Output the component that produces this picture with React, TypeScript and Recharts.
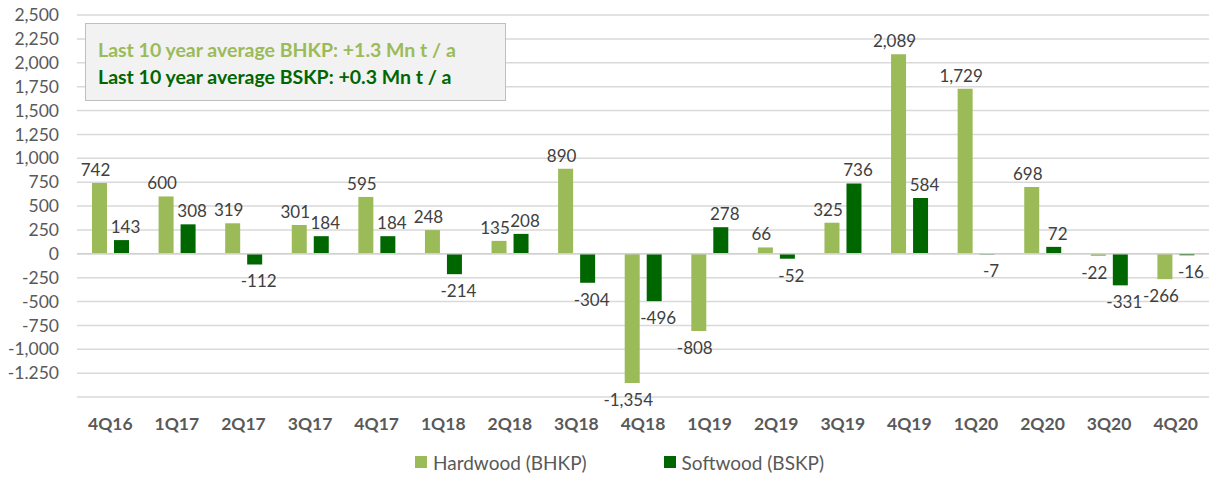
import React from 'react';
import { BarChart, Bar, XAxis, YAxis, CartesianGrid, ReferenceLine, Legend, LabelList } from 'recharts';

const quarters = ['4Q16', '1Q17', '2Q17', '3Q17', '4Q17', '1Q18', '2Q18', '3Q18', '4Q18', '1Q19', '2Q19', '3Q19', '4Q19', '1Q20', '2Q20', '3Q20', '4Q20'];
const hardwood = [742, 600, 319, 301, 595, 248, 135, 890, -1354, -808, 66, 325, 2089, 1729, 698, -22, -266];
const softwood = [143, 308, -112, 184, 184, -214, 208, -304, -496, 278, -52, 736, 584, -7, 72, -331, -16];

const yTicks = [-1500, -1250, -1000, -750, -500, -250, 0, 250, 500, 750, 1000, 1250, 1500, 1750, 2000, 2250, 2500];
const yTickLabels = ['', '-1.250', '-1,000', '-750', '-500', '-250', '0', '250', '500', '750', '1,000', '1,250', '1,500', '1,750', '2,000', '2,250', '2,500'];

const seriesNames = ['Hardwood (BHKP)', 'Softwood (BSKP)'];
const noteLines = ['Last 10 year average BHKP: +1.3 Mn t / a', 'Last 10 year average BSKP: +0.3 Mn t / a'];

const data = quarters.map((q, i) => ({ q, hw: hardwood[i], sw: softwood[i] }));

const FONT = 'Lato, "Open Sans", sans-serif';
const HW = '#9bbb59';
const SW = '#006600';

// labels sit just outside the bar end, pushed slightly apart so neighbours don't touch
const makeLabel = (dx: number) => (props: any) => {
  const { x, y, width, height, value } = props;
  const top = Math.min(y, y + height);
  const bottom = Math.max(y, y + height);
  const ty = value >= 0 ? top - 7 : bottom + 23;
  return (
    <text x={x + width / 2 + dx} y={ty} textAnchor="middle" fill="#404040" fontSize={17} fontFamily={FONT}>
      {Number(value).toLocaleString('en-US')}
    </text>
  );
};
const HwLabel = makeLabel(-4);
const SwLabel = makeLabel(4);

const renderLegend = () => (
  <div style={{ display: 'flex', justifyContent: 'center', gap: 77, height: 30, alignItems: 'center', fontFamily: FONT, fontSize: 19, color: '#595959', paddingLeft: 30 }}>
    {seriesNames.map((n, i) => (
      <div key={n} style={{ display: 'flex', alignItems: 'center' }}>
        <span style={{ width: 12, height: 12, background: i === 0 ? HW : SW, marginRight: 6, display: 'inline-block' }} />
        {n}
      </div>
    ))}
  </div>
);

export default function App() {
  return (
    <div style={{ position: 'relative', width: 1209, height: 477, background: '#fff' }}>
      <style>{'body{margin:0}'}</style>
      <BarChart width={1209} height={477} data={data} margin={{ top: 15, right: 0, left: 0, bottom: 0 }} barSize={15} barGap={7}>
        <CartesianGrid vertical={false} stroke="#d9d9d9" strokeWidth={1.5} />
        <XAxis dataKey="q" axisLine={false} tickLine={false} tickSize={0} tickMargin={21} height={50} interval={0}
          tick={{ fill: '#595959', fontSize: 17.5, fontWeight: 700, fontFamily: FONT }} />
        <YAxis domain={[-1500, 2500]} ticks={yTicks} interval={0} width={77} axisLine={false} tickLine={false} tickSize={0} tickMargin={18}
          tickFormatter={(v: number) => yTickLabels[yTicks.indexOf(v)] ?? ''}
          tick={{ fill: '#595959', fontSize: 17.5, fontFamily: FONT }} />
        <ReferenceLine y={0} stroke="#d0d0d0" strokeWidth={1.5} />
        <Legend verticalAlign="bottom" height={30} content={renderLegend} />
        <Bar dataKey="hw" name={seriesNames[0]} fill={HW} isAnimationActive={false}>
          <LabelList dataKey="hw" content={HwLabel} />
        </Bar>
        <Bar dataKey="sw" name={seriesNames[1]} fill={SW} isAnimationActive={false}>
          <LabelList dataKey="sw" content={SwLabel} />
        </Bar>
      </BarChart>
      <div style={{ position: 'absolute', left: 85, top: 23, width: 407, height: 76, background: '#f2f2f2', border: '1.5px solid #bfbfbf', fontFamily: FONT, fontWeight: 700, fontSize: 19.5, paddingLeft: 12, boxSizing: 'content-box' }}>
        <div style={{ color: HW, marginTop: 12, lineHeight: '27px' }}>{noteLines[0]}</div>
        <div style={{ color: SW, lineHeight: '27px' }}>{noteLines[1]}</div>
      </div>
    </div>
  );
}
